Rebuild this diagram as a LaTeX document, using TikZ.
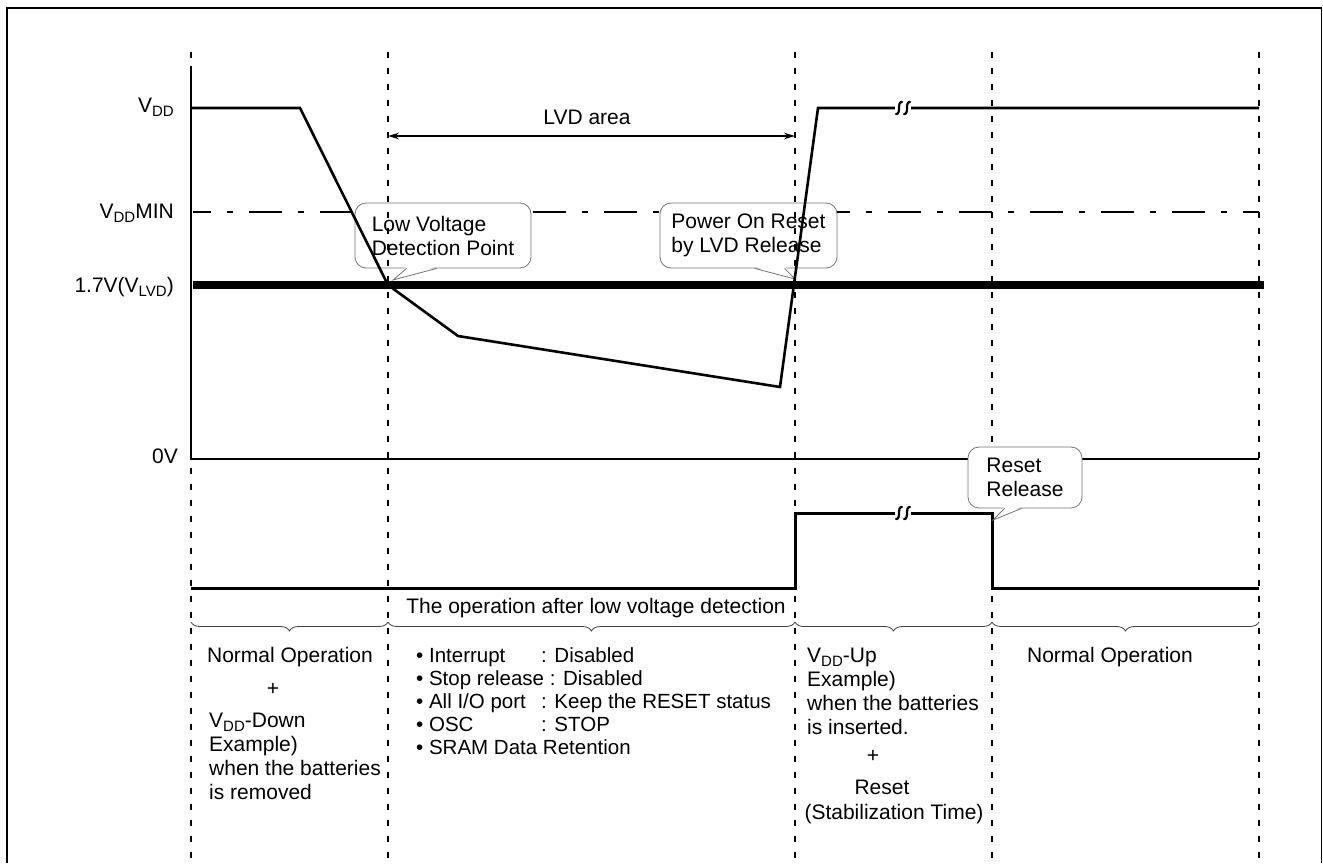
\documentclass[tikz,border=0pt]{standalone}
\usepackage{fontspec}
\setmainfont{Liberation Sans}
\usetikzlibrary{arrows.meta,calc,decorations.pathreplacing}
\newcommand{\wavebrk}[2]{%
  \fill[white] (#1-8,#2-3) rectangle (#1+8,#2+3);
  \foreach \dx in {-4,4}{
    \draw[line width=2.2pt, line cap=round] (#1+\dx-3,#2+6) .. controls (#1+\dx+2.5,#2+6.5) and (#1+\dx-2.5,#2-6.5) .. (#1+\dx+3,#2-6);
  }}
\newcommand{\lowsub}[1]{\raisebox{-4.5pt}{\fontsize{15}{15}\selectfont #1}}
\begin{document}
\begin{tikzpicture}[x=1pt,y=-1pt,
  every node/.style={inner sep=0pt, font=\fontsize{21}{24}\selectfont},
  vgrid/.style={line width=2pt, dash pattern=on 6pt off 10pt},
  sig/.style={line width=2.6pt, line join=miter, line cap=butt},
  callout/.style={draw=black!55, line width=0.8pt, fill=white, rounded corners=11pt, align=left},
  ptr/.style={draw=black!55, line width=0.8pt},
  brc/.style={decorate, decoration={brace, mirror, amplitude=9pt}, line width=0.8pt, draw=black!75},
  lst/.style={anchor=base west, font=\fontsize{20.5}{23}\selectfont}]

\useasboundingbox (0,0) rectangle (1323,863);
\draw[line width=1.6pt] (7,863) -- (7,8) -- (1321.5,8) -- (1321.5,863);

% VDD MIN dash-dot line
\draw[line width=2pt, dash pattern=on 33pt off 16pt on 6pt off 16pt, dash phase=15pt] (193,212) -- (1259,212);

% upper callouts
\node[callout, minimum width=176pt, minimum height=65pt] (lvdp) at (443,235.5) {Low Voltage\\Detection Point};
\coordinate (lvdtip) at (393,280);
\fill[white] ($(lvdp.south west)+(52,-2)$) -- (lvdtip) -- ($(lvdp.south west)+(82,-2)$) -- cycle;
\draw[ptr] ($(lvdp.south west)+(52,0)$) -- (lvdtip) -- ($(lvdp.south west)+(82,0)$);

\node[callout, minimum width=177pt, minimum height=65pt] (por) at (748.5,235.5) {Power On Reset\\by LVD Release};
\coordinate (portip) at (795,279);
\fill[white] ($(por.south west)+(95,-2)$) -- (portip) -- ($(por.south west)+(125,-2)$) -- cycle;
\draw[ptr] ($(por.south west)+(95,0)$) -- (portip) -- ($(por.south west)+(125,0)$);

% dotted verticals
\foreach \x/\n in {191/a,388/b,795/c,992/d,1259/e}{
  \coordinate (t\n) at (\x,52);
  \coordinate (b\n) at (\x,858);
  \draw[vgrid] (t\n) -- (b\n);
}

% 1.7V thick line
\draw[line width=8pt] (193,285) -- (1264,285);

% axis and 0V
\draw[line width=2.5pt] (191,66) -- (191,460);
\draw[line width=2pt] (190,459) -- (1259,459);

% waveforms
\draw[sig] (191,108) -- (300,108) -- (388,285) -- (458,336) -- (780,387) -- (818,108) -- (1259,108);
\draw[sig, line width=3pt] (191,588) -- (795,588) -- (795,513) -- (992,513) -- (992,588) -- (1259,588);
\wavebrk{903}{108}
\wavebrk{903}{513}

% reset release callout
\node[callout, minimum width=114pt, minimum height=61pt] (rst) at (1025,477.5) {Reset\\Release};
\coordinate (rsttip) at (993,520);
\fill[white] ($(rst.south west)+(37,-2)$) -- (rsttip) -- ($(rst.south west)+(54,-2)$) -- cycle;
\draw[ptr] ($(rst.south west)+(37,0)$) -- (rsttip) -- ($(rst.south west)+(54,0)$);

% LVD area arrow
\coordinate (la) at (388,136);
\coordinate (lb) at (795,136);
\draw[line width=1.2pt, {Stealth[length=11pt,width=6.5pt]}-{Stealth[length=11pt,width=6.5pt]}] (la) -- (lb);
\node[anchor=base] (lvdarea) at (587,124) {LVD area};

% left labels
\node[anchor=base east] (lvdd) at (174,112) {V\lowsub{DD}};
\node[anchor=base east] (lvddmin) at (174,218) {V\lowsub{DD}MIN};
\node[anchor=base east] (llvd) at (174,292) {1.7V(V\lowsub{LVD})};
\node[anchor=base east] (l0v) at (178,463) {0V};

% braces
\draw[brc] (191,622) -- (388,622);
\draw[brc] (388,622) -- (795,622);
\draw[brc] (795,622) -- (992,622);
\draw[brc] (992,622) -- (1259,622);

\node[anchor=base] (opafter) at (596,613) {The operation after low voltage detection};

% column 1
\node[anchor=base] (n1) at (290,662) {Normal Operation};
\node[anchor=base] (plus1) at (273,695) {+};
\foreach \t [count=\i from 0] in {{V\lowsub{DD}-Down},{Example)},{when the batteries},{is removed}}
  \node[anchor=base west] (dn\i) at (209,727+24*\i) {\t};

% column 2
\node[lst] (i1) at (416,662) {• Interrupt};
\node[lst] (i1v) at (541,662) {: Disabled};
\node[lst] (i2) at (416,685) {• Stop release : Disabled};
\node[lst] (i3) at (416,708) {• All I/O port};
\node[lst] (i3v) at (541,708) {: Keep the RESET status};
\node[lst] (i4) at (416,731) {• OSC};
\node[lst] (i4v) at (541,731) {: STOP};
\node[lst] (i5) at (416,754) {• SRAM Data Retention};

% column 3
\foreach \t [count=\i from 0] in {{V\lowsub{DD}-Up},{Example)},{when the batteries},{is inserted.}}
  \node[anchor=base west] (up\i) at (807,662+24.3*\i) {\t};
\node[anchor=base] (plus2) at (873,762) {+};
\node[anchor=base] (rs) at (882,794) {Reset};
\node[anchor=base] (stab) at (894,819) {(Stabilization Time)};

% column 4
\node[anchor=base] (n4) at (1110,662) {Normal Operation};
\end{tikzpicture}
\end{document}
